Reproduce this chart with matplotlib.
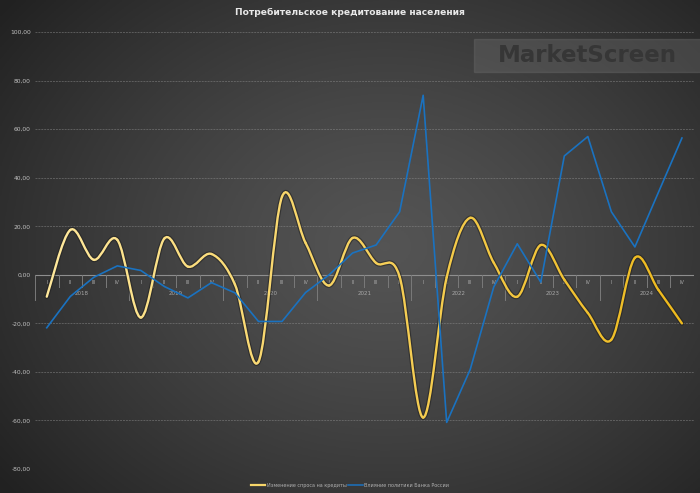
import numpy as np
import matplotlib.pyplot as plt
from matplotlib.path import Path
from matplotlib.patches import PathPatch, Rectangle
from matplotlib.lines import Line2D

years = ["2018", "2019", "2020", "2021", "2022", "2023", "2024"]
quarters = ["I", "II", "III", "IV"]

# Изменение спроса на кредиты
demand = [-9, 18.5, 6.2, 14.4, -17.6, 15, 3.4, 8.6,
          -4, -35.8, 32.2, 13.2, -4.4, 15.2, 4.9, -0.8,
          -58.8, -1, 23.5, 5, -9, 12.3, -2, -15.7,
          -26.7, 7, -6.2, -20]
# Влияние политики Банка России
policy = [-21.8, -8.9, -1, 3.7, 1.8, -4.8, -9.5, -3.2,
          -7.4, -19.2, -19.2, -7.3, 0, 9, 12.3, 26,
          74, -60.8, -39, -5, 12.8, -3, 49, 57,
          26, 11.5, 34, 56.4]

yticks = np.arange(-80, 101, 20)

fig = plt.figure(figsize=(7, 4.93), dpi=100)

# background gradient
bg = fig.add_axes([0, 0, 1, 1], zorder=-10)
gx, gy = np.meshgrid(np.linspace(0, 1, 300), np.linspace(0, 1, 220))
r = np.sqrt(((gx - 0.55) / 0.75) ** 2 + ((gy - 0.5) / 0.85) ** 2)
shade = np.clip(0.33 - 0.22 * r ** 1.3, 0.13, 0.35)
bg.imshow(np.dstack([shade] * 3), aspect="auto", extent=[0, 1, 0, 1])
bg.axis("off")

ax = fig.add_axes([0.05, 0.0487, 0.941, 0.886])
ax.patch.set_alpha(0)
n = len(demand)
x = np.arange(n)
ax.set_xlim(-0.5, n - 0.5)
ax.set_ylim(-80, 100)

for s in ax.spines.values():
    s.set_visible(False)
ax.set_yticks(yticks)
ax.set_yticklabels([f"{v:.2f}".replace(".", ",") for v in yticks])
ax.tick_params(axis="y", length=0, labelsize=4.3, labelcolor="#c0c0c0", pad=3)
ax.set_xticks([])
for v in yticks:
    ax.axhline(v, color="#8a8a8a", lw=0.7, ls=(0, (2, 1)), alpha=0.5, zorder=1)

# category axis
ax.axhline(0, color="#8e8e8e", lw=0.8, zorder=1)
for i in range(n + 1):
    b = i - 0.5
    if i % 4 == 0:
        ax.plot([b, b], [0, -10.5], color="#7a7a7a", lw=0.7, zorder=1)
    else:
        ax.plot([b, b], [0, -5], color="#7a7a7a", lw=0.7, zorder=1)
for i in range(n):
    ax.text(i, -3.0, quarters[i % 4], ha="center", va="center",
            fontsize=3.6, color="#a8a8a8")
for k, yr in enumerate(years):
    ax.text(4 * k + 1.5, -7.8, yr, ha="center", va="center",
            fontsize=4.0, color="#a8a8a8")

# smoothed demand line (Bezier segments)
pts = np.column_stack([x, demand]).astype(float)
ext = np.vstack([pts[0], pts, pts[-1]])
verts, codes = [pts[0]], [Path.MOVETO]
segs = []
for i in range(n - 1):
    p0, p1, p2, p3 = ext[i], ext[i + 1], ext[i + 2], ext[i + 3]
    c1 = p1 + (p2 - p0) / 6
    c2 = p2 - (p3 - p1) / 6
    verts += [c1, c2, p2]
    codes += [Path.CURVE4] * 3
    segs.append([p1, c1, c2, p2])

full = Path(verts, codes)
ax.add_patch(PathPatch(full, fill=False, ec="#1e1e1e", lw=3.4, alpha=0.55,
                       zorder=3, capstyle="round", joinstyle="round"))
c_start = np.array([255, 232, 155]) / 255
c_end = np.array([238, 186, 30]) / 255
for i, sg in enumerate(segs):
    t = i / (n - 2)
    col = c_start * (1 - t) + c_end * t
    p = Path(sg, [Path.MOVETO] + [Path.CURVE4] * 3)
    ax.add_patch(PathPatch(p, fill=False, ec=col, lw=1.7, zorder=4,
                           capstyle="round"))

ax.plot(x, policy, color="#1a72c0", lw=1.2, zorder=5)

fig.text(0.5, 0.975, "Потребительское кредитование населения", ha="center",
         va="center", fontsize=6.6, fontweight="bold", color="#e8e8e8")

# watermark
fig.patches.append(Rectangle((474 / 700, 1 - 72 / 493), 0.33, 33 / 493,
                             transform=fig.transFigure, color="#6a6a6a",
                             alpha=0.4, zorder=2))
fig.text(587 / 700, 1 - 56 / 493, "MarketScreen", ha="center", va="center",
         fontsize=16.5, fontweight="bold", color="#363636", zorder=3)

handles = [Line2D([], [], color="#f7d66a", lw=1.6),
           Line2D([], [], color="#1a72c0", lw=1.1)]
fig.legend(handles, ["Изменение спроса на кредиты", "Влияние политики Банка России"],
           loc="center", bbox_to_anchor=(0.5, 0.016), ncol=2, frameon=False,
           fontsize=3.5, labelcolor="#b0b0b0", handlelength=3.0,
           columnspacing=0.4, handletextpad=0.3)

fig.savefig("out.png", dpi=100)
